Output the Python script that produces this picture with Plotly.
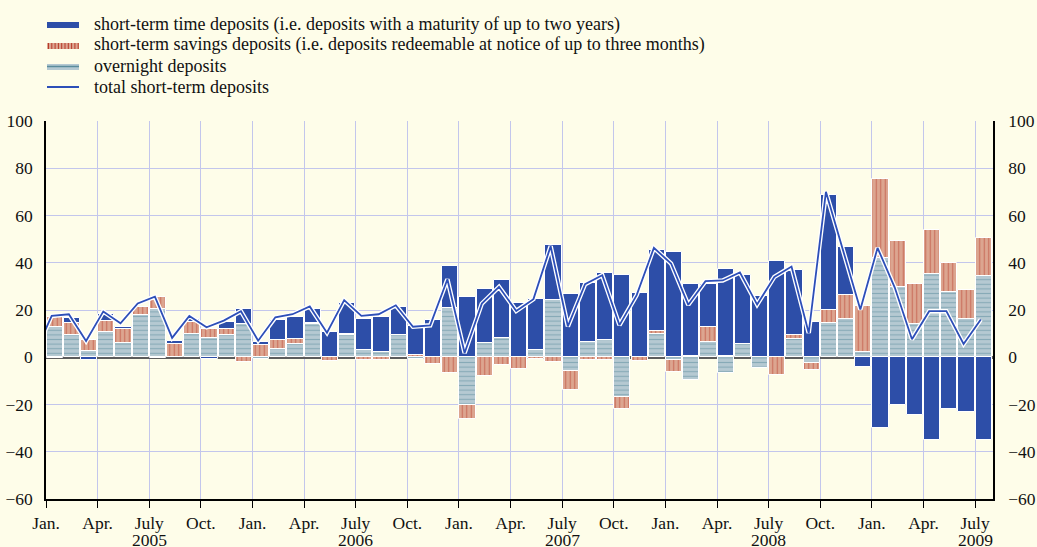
import plotly.graph_objects as go

# ---------------- data (monthly, Jan 2005 - Jul 2009) ----------------
months = [f"{y}-{m:02d}" for y in range(2005, 2010) for m in range(1, 13)][:55]

overnight = [12.9, 9.6, 2.7, 10.5, 6.2, 17.8, 20.6, 0.3, 10.0, 8.0, 9.6, 14.1,
             -0.8, 3.6, 5.7, 13.9, 0.3, 9.3, 3.0, 2.3, 9.3, -0.6, 0.0, 21.0,
             -20.3, 6.1, 8.2, 0.0, 3.0, 24.2, -5.9, 6.5, 7.5, -16.8, 0.0, 10.0,
             -1.0, -9.7, 6.5, -6.6, 5.8, -4.5, 0.0, 7.9, -2.4, 14.3, 16.0, 2.3,
             42.1, 29.8, 14.0, 35.3, 27.7, 16.0, 34.5]

savings = [4.2, 5.1, 4.5, 4.8, 5.7, 3.5, 4.7, 5.5, 5.0, 3.9, 2.2, -2.1,
           5.0, 3.7, 1.9, 0.4, -1.7, 0.7, -1.0, -1.0, 0.0, 0.8, -2.7, -6.6,
           -5.7, -8.0, -3.4, -4.8, -0.7, -2.0, -8.1, -1.3, -1.3, -5.0, -1.5, 1.2,
           -5.2, 0.5, 6.1, 0.5, 0.0, 0.0, -7.6, 1.4, -3.1, 5.6, 10.3, 19.5,
           33.2, 19.4, 16.9, 18.5, 12.4, 12.4, 15.8]

time_dep = [-0.3, 2.1, -1.0, 2.8, 1.0, 0.0, -0.5, 1.2, 1.0, -0.7, 3.2, 6.2,
            1.5, 8.5, 9.3, 6.1, 10.6, 13.1, 13.4, 14.8, 12.0, 12.3, 15.7, 17.7,
            25.3, 23.0, 24.7, 23.0, 21.6, 23.3, 26.6, 25.0, 28.0, 34.7, 27.4, 34.1,
            44.4, 30.4, 18.3, 36.8, 28.9, 25.8, 40.8, 27.8, 15.0, 48.8, 20.2, -4.1,
            -30.1, -20.3, -24.3, -35.2, -21.8, -23.2, -34.9]

# total line starts with Dec 2004 (partly visible at the left edge)
total_months = ["2004-12"] + months
total = [1.4,
         17.5, 18.2, 6.9, 19.4, 14.4, 22.8, 25.6, 8.2, 17.5, 12.7, 15.5, 19.5,
         7.0, 16.9, 18.2, 21.5, 10.4, 24.2, 17.5, 18.2, 22.0, 12.9, 13.5, 33.0,
         1.8, 22.7, 29.8, 19.6, 24.6, 47.0, 13.1, 30.9, 34.7, 13.6, 26.3, 46.3,
         39.7, 22.2, 32.2, 32.5, 35.9, 22.3, 34.0, 38.4, 10.3, 70.0, 45.5, 20.2,
         46.3, 29.5, 7.6, 19.5, 19.5, 5.6, 16.0]

month_names = {1: "Jan.", 4: "Apr.", 7: "July", 10: "Oct."}
years = ["2005", "2006", "2007", "2008", "2009"]
y_ticks = [-60, -40, -20, 0, 20, 40, 60, 80, 100]

# ---------------- styling ----------------
BG = "#FEFDE9"
BLUE = "#2D4EA8"
SAV_FILL = "#DCA590"
SAV_STRIPE = "#B73A28"
OVN_FILL = "#B5C9D2"
OVN_STRIPE = "#5A8C9C"
GRID = "#C3C6EC"
LINE = "#2D4FB8"
FONT = "Liberation Serif, Times New Roman, serif"

def month_index(label):
    y, m = label.split("-")
    return (int(y) - 2005) * 12 + int(m) - 1

bar_x = [month_index(m) + 0.5 for m in months]
line_x = [month_index(m) + 0.33 for m in total_months]

fig = go.Figure()
common = dict(x=bar_x, width=0.94, showlegend=False, hoverinfo="skip")
fig.add_trace(go.Bar(y=overnight, name="overnight deposits",
                     marker=dict(color=OVN_FILL, line=dict(color="white", width=1),
                                 pattern=dict(shape="-", fgcolor=OVN_STRIPE, size=4.6,
                                              solidity=0.24, fillmode="overlay")),
                     **common))
fig.add_trace(go.Bar(y=savings, name="short-term savings deposits",
                     marker=dict(color=SAV_FILL, line=dict(color="white", width=1),
                                 pattern=dict(shape="|", fgcolor=SAV_STRIPE, size=4.5,
                                              solidity=0.25, fillmode="overlay")),
                     **common))
fig.add_trace(go.Bar(y=time_dep, name="short-term time deposits",
                     marker=dict(color=BLUE, line=dict(color="white", width=1)),
                     **common))
# total line with white halo (on overlaying axis so it sits above the bars)
fig.add_trace(go.Scatter(x=line_x, y=total, mode="lines", yaxis="y2",
                         line=dict(color="white", width=4.5), showlegend=False,
                         hoverinfo="skip"))
fig.add_trace(go.Scatter(x=line_x, y=total, mode="lines", yaxis="y2",
                         name="total short-term deposits",
                         line=dict(color=LINE, width=1.8), showlegend=False))

tickvals = [month_index(m) for m in months if int(m[5:]) in month_names]
ticktext = [month_names[int(m[5:])] for m in months if int(m[5:]) in month_names]

L, R, T, B = 46, 44, 121, 48
W, H = 1037, 547
PW, PH = W - L - R, H - T - B

def px(xp):
    return (xp - L) / PW

def py(yp):
    return (H - B - yp) / PH

axis_font = dict(family=FONT, size=17.5, color="#111")
yrange = [-60, 100]
fig.update_layout(
    width=W, height=H,
    margin=dict(l=L, r=R, t=T, b=B, autoexpand=False),
    paper_bgcolor=BG, plot_bgcolor=BG,
    barmode="relative", bargap=0,
    font=dict(family=FONT, color="#111"),
    xaxis=dict(range=[0, 55.04], tickmode="array", tickvals=tickvals, ticktext=ticktext,
               showgrid=True, gridcolor=GRID, gridwidth=1, automargin=False,
               showline=True, linecolor="black", linewidth=1.5,
               ticks="outside", ticklen=7, tickwidth=1.3, tickcolor="black",
               tickfont=axis_font, zeroline=False, fixedrange=True),
    yaxis=dict(range=yrange, tickvals=y_ticks, showgrid=True, gridcolor=GRID, gridwidth=1,
               showline=True, linecolor="black", linewidth=1.5, automargin=False,
               zeroline=True, zerolinecolor="#5c5c5c", zerolinewidth=2.5,
               ticks="", ticklabelstandoff=8, tickfont=axis_font),
    yaxis2=dict(range=yrange, tickvals=y_ticks, overlaying="y", side="right",
                showgrid=False, zeroline=False, showline=True, linecolor="black",
                linewidth=1.5, ticks="", ticklabelstandoff=10, tickfont=axis_font,
                automargin=False),
)

# ---------------- manual legend ----------------
shapes = []
sx0, sx1 = px(47), px(79)
shapes.append(dict(type="rect", xref="paper", yref="paper", x0=sx0, x1=sx1,
                   y0=py(28), y1=py(22), fillcolor=BLUE, line=dict(width=0)))
shapes.append(dict(type="rect", xref="paper", yref="paper", x0=sx0, x1=sx1,
                   y0=py(49), y1=py(43), fillcolor=SAV_FILL, line=dict(width=0)))
xs = 48.5
while xs < 79:
    shapes.append(dict(type="line", xref="paper", yref="paper", x0=px(xs), x1=px(xs),
                       y0=py(49), y1=py(43), line=dict(color=SAV_STRIPE, width=1)))
    xs += 3.3
shapes.append(dict(type="rect", xref="paper", yref="paper", x0=sx0, x1=sx1,
                   y0=py(70), y1=py(64), fillcolor=OVN_FILL, line=dict(width=0)))
shapes.append(dict(type="line", xref="paper", yref="paper", x0=sx0, x1=sx1,
                   y0=py(66.5), y1=py(66.5), line=dict(color=OVN_STRIPE, width=1.5)))
shapes.append(dict(type="line", xref="paper", yref="paper", x0=sx0, x1=sx1,
                   y0=py(87), y1=py(87), line=dict(color=LINE, width=2)))

legend_texts = ["short-term time deposits (i.e. deposits with a maturity of up to two years)",
                "short-term savings deposits (i.e. deposits redeemable at notice of up to three months)",
                "overnight deposits",
                "total short-term deposits"]
legend_y = [24, 45, 66, 87]
annotations = []
for txt, yy in zip(legend_texts, legend_y):
    annotations.append(dict(text=txt, xref="paper", yref="paper", x=px(92), y=py(yy),
                            xanchor="left", yanchor="middle", showarrow=False,
                            font=dict(family=FONT, size=18, color="#111")))
# year labels under July ticks
for yr in years:
    annotations.append(dict(text=yr, xref="x", yref="paper", x=month_index(yr + "-07"),
                            y=py(528), xanchor="center", yanchor="top", showarrow=False,
                            font=axis_font))

fig.update_layout(shapes=shapes, annotations=annotations)
fig.write_html("out.html", config={"displayModeBar": False},
               post_script="document.body.style.margin='0';document.body.style.overflow='hidden';")
